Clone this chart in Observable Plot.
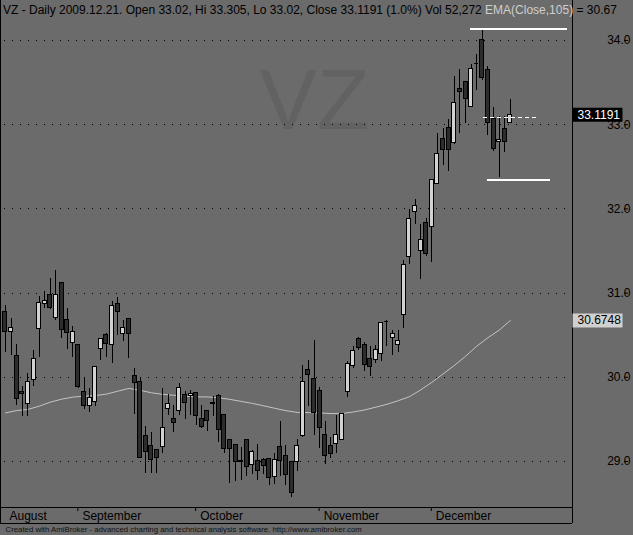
<!DOCTYPE html>
<html>
<head>
<meta charset="utf-8">
<script src="https://cdn.jsdelivr.net/npm/d3@7"></script>
<script src="https://cdn.jsdelivr.net/npm/@observablehq/plot@0.6"></script>
<style>
  html, body { margin: 0; padding: 0; background: #6b6b6b; }
  #chart svg { display: block; }
</style>
</head>
<body>
<div id="chart"></div>
<script>
// VZ daily bars, 2009-08-13 .. 2009-12-21 (bar index 0..90)
const open = [
  30.77, 30.54, 30.25, 29.83, 29.68, 29.97, 30.57, 30.87, 30.98, 30.71,
  31.12, 30.68, 30.41, 30.38, 29.82, 29.66, 29.71, 30.34, 30.50, 30.38,
  30.87, 30.51, 30.69, 30.01, 29.94, 29.30, 29.18, 29.14, 29.17, 29.62,
  29.51, 29.60, 29.79, 29.78, 29.81, 29.50, 29.60, 29.68, 29.78, 29.55,
  29.25, 29.20, 29.01, 29.26, 28.96, 29.01, 29.02, 29.03, 28.81, 29.17,
  29.07, 28.99, 28.99, 29.30, 30.09, 29.98, 29.84, 29.32, 29.19, 29.21,
  29.26, 29.82, 30.14, 30.45, 30.38, 30.22, 30.21, 30.28, 30.66, 30.47,
  30.38, 30.74, 31.43, 31.96, 31.50, 31.83, 31.78, 32.29, 32.83, 32.96,
  32.78, 33.42, 33.51, 33.21, 33.73, 34.00, 33.65, 33.07, 32.79, 32.95,
  33.02
];
const high = [
  30.85, 30.70, 30.39, 29.89, 30.04, 30.32, 30.96, 31.02, 31.17, 31.27,
  31.13, 30.82, 30.60, 30.38, 29.98, 29.87, 30.12, 30.46, 30.52, 30.90,
  30.95, 30.68, 30.69, 30.10, 29.99, 29.41, 29.35, 29.14, 29.87, 29.79,
  29.67, 29.93, 29.83, 29.84, 29.81, 29.67, 29.60, 29.77, 29.80, 29.55,
  29.25, 29.20, 29.17, 29.26, 29.13, 29.20, 29.03, 29.03, 29.09, 29.48,
  29.19, 28.99, 29.26, 30.14, 30.20, 30.44, 29.88, 29.47, 29.29, 29.55,
  29.57, 30.19, 30.36, 30.47, 30.41, 30.36, 30.38, 30.65, 30.67, 30.56,
  30.56, 31.39, 31.99, 32.11, 31.82, 31.89, 32.34, 32.90, 32.96, 33.06,
  33.57, 33.65, 33.51, 33.71, 33.83, 34.13, 33.69, 33.21, 33.10, 33.10,
  33.305
];
const low = [
  30.29, 30.26, 29.66, 29.54, 29.53, 29.89, 30.23, 30.82, 30.80, 30.68,
  30.46, 30.33, 30.24, 29.87, 29.62, 29.58, 29.65, 30.20, 30.24, 30.16,
  30.50, 30.42, 30.22, 29.56, 29.03, 28.86, 28.86, 28.86, 29.09, 29.55,
  29.34, 29.55, 29.50, 29.55, 29.43, 29.39, 29.36, 29.53, 29.22, 29.10,
  28.74, 28.76, 28.78, 28.82, 28.84, 28.78, 28.84, 28.71, 28.73, 28.82,
  28.71, 28.57, 28.88, 29.29, 29.65, 29.31, 29.16, 28.96, 29.04, 29.09,
  29.26, 29.76, 30.10, 30.32, 30.07, 30.01, 30.16, 30.19, 30.37, 30.26,
  30.30, 30.58, 31.34, 31.82, 31.16, 31.43, 31.36, 32.29, 32.51, 32.45,
  32.76, 32.89, 33.01, 33.21, 33.41, 33.53, 32.87, 32.68, 32.37, 32.67,
  33.02
];
const close = [
  30.54, 30.59, 29.74, 29.80, 29.95, 30.22, 30.88, 30.91, 30.82, 30.98,
  30.56, 30.53, 30.54, 29.89, 29.66, 29.76, 30.12, 30.46, 30.40, 30.85,
  30.77, 30.58, 30.51, 29.93, 29.04, 29.11, 29.02, 29.04, 29.40, 29.68,
  29.46, 29.87, 29.69, 29.80, 29.54, 29.41, 29.48, 29.70, 29.38, 29.15,
  29.15, 29.00, 29.00, 28.94, 29.11, 28.89, 28.95, 28.80, 29.02, 29.01,
  28.84, 28.63, 29.19, 29.95, 30.03, 29.58, 29.40, 29.07, 29.09, 29.31,
  29.56, 30.16, 30.31, 30.35, 30.15, 30.12, 30.33, 30.65, 30.66, 30.52,
  30.43, 31.33, 31.88, 32.04, 31.63, 31.46, 32.34, 32.65, 32.70, 32.70,
  33.26, 33.39, 33.30, 33.66, 33.73, 33.55, 33.02, 32.71, 32.82, 32.80,
  33.1191
];
const lastVolume = "52,272";

// EMA(Close,105) as plotted, sampled every other bar
const emaBar = [0, 2, 4, 6, 8, 10, 12, 14, 16, 18, 20, 22, 24, 26, 28, 30, 32, 34, 36, 38,
  40, 42, 44, 46, 48, 50, 52, 54, 56, 58, 60, 62, 64, 66, 68, 70, 72, 74, 76, 78,
  80, 82, 84, 86, 88, 90];
const emaValue = [29.577, 29.605, 29.618, 29.657, 29.705, 29.740, 29.765, 29.775, 29.783, 29.800,
  29.835, 29.868, 29.846, 29.816, 29.798, 29.787, 29.775, 29.767, 29.767, 29.757,
  29.738, 29.714, 29.690, 29.662, 29.632, 29.604, 29.583, 29.581, 29.577, 29.569,
  29.570, 29.588, 29.612, 29.645, 29.680, 29.722, 29.770, 29.850, 29.940, 30.040,
  30.140, 30.250, 30.370, 30.470, 30.560, 30.6748];

// price axis and month axis
const priceTicks = [29, 30, 31, 32, 33, 34];
const monthNames = ["August", "September", "October", "November", "December"];
const monthFirstBar = [0, 13, 34, 56, 76];

// drawn study lines: level, first bar, last bar
const studyLevel = [34.14, 32.34];
const studyFrom = [82.8, 85.9];
const studyTo = [100.1, 97.1];
const priceLine = {level: 33.09, from: 85.2, to: 95.1};

const bars = open.map((o, i) => ({i, open: o, high: high[i], low: low[i], close: close[i]}));
const dojis = bars.filter(d => d.open === d.close);
const bodies = bars.filter(d => d.open !== d.close);
const ema = emaBar.map((b, k) => ({i: b, v: emaValue[k]}));
const studies = studyLevel.map((v, k) => ({v, from: studyFrom[k], to: studyTo[k]}));
const months = monthFirstBar.map((b, k) => ({b, name: monthNames[k]}));

const last = bars[bars.length - 1];
const prev = bars[bars.length - 2];
const lastEma = emaValue[emaValue.length - 1];

const xDomain = [-0.891, 101.07];
const yDomain = [28.4537, 34.475];
const font = "'Liberation Sans', Arial, sans-serif";

const chart = Plot.plot({
  width: 633,
  height: 535,
  marginTop: 0,
  marginBottom: 28,
  marginLeft: 0,
  marginRight: 61,
  x: {type: "linear", domain: xDomain, axis: null},
  y: {type: "linear", domain: yDomain, axis: null},
  style: {background: "#6b6b6b", color: "#000", fontFamily: font, fontSize: "12px", overflow: "visible"},
  marks: [
    // ticker watermark
    Plot.text(["VZ"], {text: d => d, frameAnchor: "top", lineAnchor: "top", dx: 28, dy: 67,
      fontSize: 86, fill: "#626262"}),
    // dotted price grid
    Plot.ruleY(priceTicks, {stroke: "#000", strokeDasharray: "1 7", strokeDashoffset: 4.5,
      shapeRendering: "crispEdges"}),
    // EMA(Close,105)
    Plot.line(ema, {x: "i", y: "v", stroke: "#c4c4c4", strokeWidth: 1}),
    // wicks
    Plot.ruleX(bars, {x: "i", y1: "low", y2: "high", stroke: "#000", shapeRendering: "crispEdges"}),
    // bodies
    Plot.rect(bodies, {x1: "i", x2: "i", insetLeft: -2, insetRight: -2,
      y1: "open", y2: "close",
      fill: d => d.close > d.open ? "#d2d2d2" : "#2c2c2c",
      stroke: "#000", shapeRendering: "crispEdges"}),
    Plot.ruleY(dojis, {x1: "i", x2: "i", insetLeft: -2, insetRight: -2, y: "close",
      stroke: "#000", shapeRendering: "crispEdges"}),
    // high / low study lines and price line
    Plot.ruleY(studies, {y: "v", x1: "from", x2: "to", stroke: "#fff", strokeWidth: 2,
      shapeRendering: "crispEdges"}),
    Plot.ruleY([priceLine], {y: "level", x1: "from", x2: "to", stroke: "#fff",
      strokeDasharray: "4 3", shapeRendering: "crispEdges"}),
    // frame lines
    Plot.ruleX([xDomain[1]], {insetBottom: -16, stroke: "#000"}),
    Plot.ruleX([xDomain[0]], {insetBottom: -16, stroke: "#000"}),
    Plot.ruleY([yDomain[0]], {stroke: "#000"}),
    Plot.ruleY([yDomain[0]], {stroke: "#000", dy: 16}),
    // price axis
    Plot.axisY(priceTicks, {anchor: "right", tickSize: 4, tickPadding: 3,
      tickFormat: d3.format(".1f"), textAnchor: "end", dx: 51, fill: "#000", fontSize: 12}),
    // month axis
    Plot.ruleX(months.slice(1), {x: d => d.b - 0.1, y1: yDomain[0], y2: yDomain[0],
      insetBottom: -4, stroke: "#000"}),
    Plot.text(months, {x: "b", text: "name", frameAnchor: "bottom", textAnchor: "start",
      lineAnchor: "top", dx: 4, dy: 4, fontSize: 12, fill: "#000"}),
    // value flags on the price axis
    Plot.ruleY([last.close], {insetLeft: 572.5, insetRight: -50.5, stroke: "#000", strokeWidth: 14}),
    Plot.text([last.close], {y: d => d, text: d => d.toFixed(4), frameAnchor: "right",
      textAnchor: "start", dx: 5, fill: "#fff", fontSize: 12}),
    Plot.ruleY([lastEma], {insetLeft: 572.5, insetRight: -50.5, stroke: "#d0d0d0", strokeWidth: 14}),
    Plot.text([lastEma], {y: d => d, text: d => d.toFixed(4), frameAnchor: "right",
      textAnchor: "start", dx: 5, fill: "#000", fontSize: 12}),
    // footer
    Plot.text(["Created with AmiBroker - advanced charting and technical analysis software. http://www.amibroker.com"],
      {text: d => d, frameAnchor: "bottom-left", textAnchor: "start", lineAnchor: "middle",
       dx: 5, dy: 21.5, fontSize: 7.8, fill: "#111"})
  ]
});

document.getElementById("chart").append(chart);

// header line: bar summary and indicator value
const pct = (last.close / prev.close - 1) * 100;
const svg = d3.select(chart);
const title = svg.append("text")
  .attr("x", 3).attr("y", 13.5)
  .attr("text-anchor", "start")
  .attr("font-family", font).attr("font-size", 12).attr("fill", "#000");
title.append("tspan").text(
  `VZ - Daily 2009.12.21. Open ${last.open.toFixed(2)}, Hi ${last.high}, Lo ${last.low.toFixed(2)}, ` +
  `Close ${last.close} (${pct.toFixed(1)}%) Vol ${lastVolume} `);
title.append("tspan").attr("fill", "#cfcfcf").text("EMA(Close,105)");
title.append("tspan").text(` = ${lastEma.toFixed(2)}`);
</script>
</body>
</html>
